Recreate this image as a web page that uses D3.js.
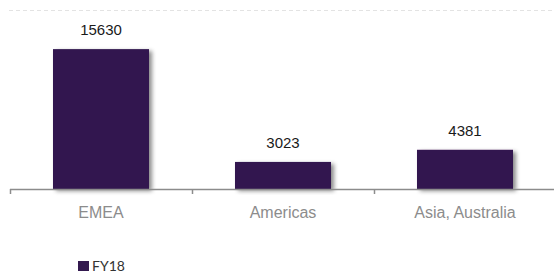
<!DOCTYPE html>
<html>
<head>
<meta charset="utf-8">
<script src="https://cdn.jsdelivr.net/npm/d3@7"></script>
<style>
  body { margin: 0; background: #fff; }
  svg { display: block; }
</style>
</head>
<body>
<div id="chart"></div>
<script>
var categories = ["EMEA", "Americas", "Asia, Australia"];
var values = [15630, 3023, 4381];
var seriesName = "FY18";
var yMax = 20000;

var width = 554, height = 273;
var barColor = "#33194f";

var svg = d3.select("#chart").append("svg")
    .attr("width", width)
    .attr("height", height);

// soft shadow on bars
var defs = svg.append("defs");
var f = defs.append("filter").attr("id", "shadow")
    .attr("x", "-10%").attr("y", "-10%").attr("width", "130%").attr("height", "130%");
f.append("feDropShadow")
    .attr("dx", 3).attr("dy", 2).attr("stdDeviation", 2)
    .attr("flood-color", "#000").attr("flood-opacity", 0.45);

var x = d3.scaleBand()
    .domain(categories)
    .range([10, 556])
    .paddingInner(0.4725)
    .paddingOuter(0.4725 / 2);

var y = d3.scaleLinear()
    .domain([0, yMax])
    .range([189, 10]);

// top gridline
svg.append("line")
    .attr("x1", 9).attr("x2", width)
    .attr("y1", y(yMax) + 0.5).attr("y2", y(yMax) + 0.5)
    .attr("stroke", "#e3e3e3")
    .attr("stroke-dasharray", "4,3");

// bars
svg.selectAll(".bar")
    .data(values)
    .enter().append("rect")
    .attr("class", "bar")
    .attr("x", (d, i) => x(categories[i]))
    .attr("y", d => y(d))
    .attr("width", x.bandwidth())
    .attr("height", d => y(0) - y(d))
    .attr("fill", barColor)
    .attr("filter", "url(#shadow)");

// x axis line and ticks at band edges
svg.append("line")
    .attr("x1", 10).attr("x2", width)
    .attr("y1", y(0) + 0.5).attr("y2", y(0) + 0.5)
    .attr("stroke", "#8c8c8c").attr("stroke-width", 1.5);

var edges = categories.map((c, i) => x.range()[0] + i * x.step());
svg.selectAll(".tick")
    .data(edges)
    .enter().append("line")
    .attr("x1", d => d + 0.5).attr("x2", d => d + 0.5)
    .attr("y1", y(0)).attr("y2", y(0) + 5)
    .attr("stroke", "#8c8c8c").attr("stroke-width", 1.5);

// value labels
svg.selectAll(".val")
    .data(values)
    .enter().append("text")
    .attr("x", (d, i) => x(categories[i]) + x.bandwidth() / 2)
    .attr("y", d => y(d) - 14)
    .attr("text-anchor", "middle")
    .style("font-family", "'Liberation Sans', Arial, sans-serif")
    .style("font-size", "15px")
    .style("fill", "#1a1a1a")
    .text(d => d);

// category labels
svg.selectAll(".cat")
    .data(categories)
    .enter().append("text")
    .attr("x", d => x(d) + x.bandwidth() / 2)
    .attr("y", 218)
    .attr("text-anchor", "middle")
    .style("font-family", "'Liberation Sans', Arial, sans-serif")
    .style("font-size", "16px")
    .style("fill", "#8c8c8c")
    .text(d => d);

// legend
svg.append("rect")
    .attr("x", 78).attr("y", 261)
    .attr("width", 11).attr("height", 10)
    .attr("fill", barColor);
svg.append("text")
    .attr("x", 92).attr("y", 271)
    .style("font-family", "Lato, 'Open Sans', sans-serif")
    .style("font-size", "14px")
    .style("fill", "#333")
    .text(seriesName);
</script>
</body>
</html>
